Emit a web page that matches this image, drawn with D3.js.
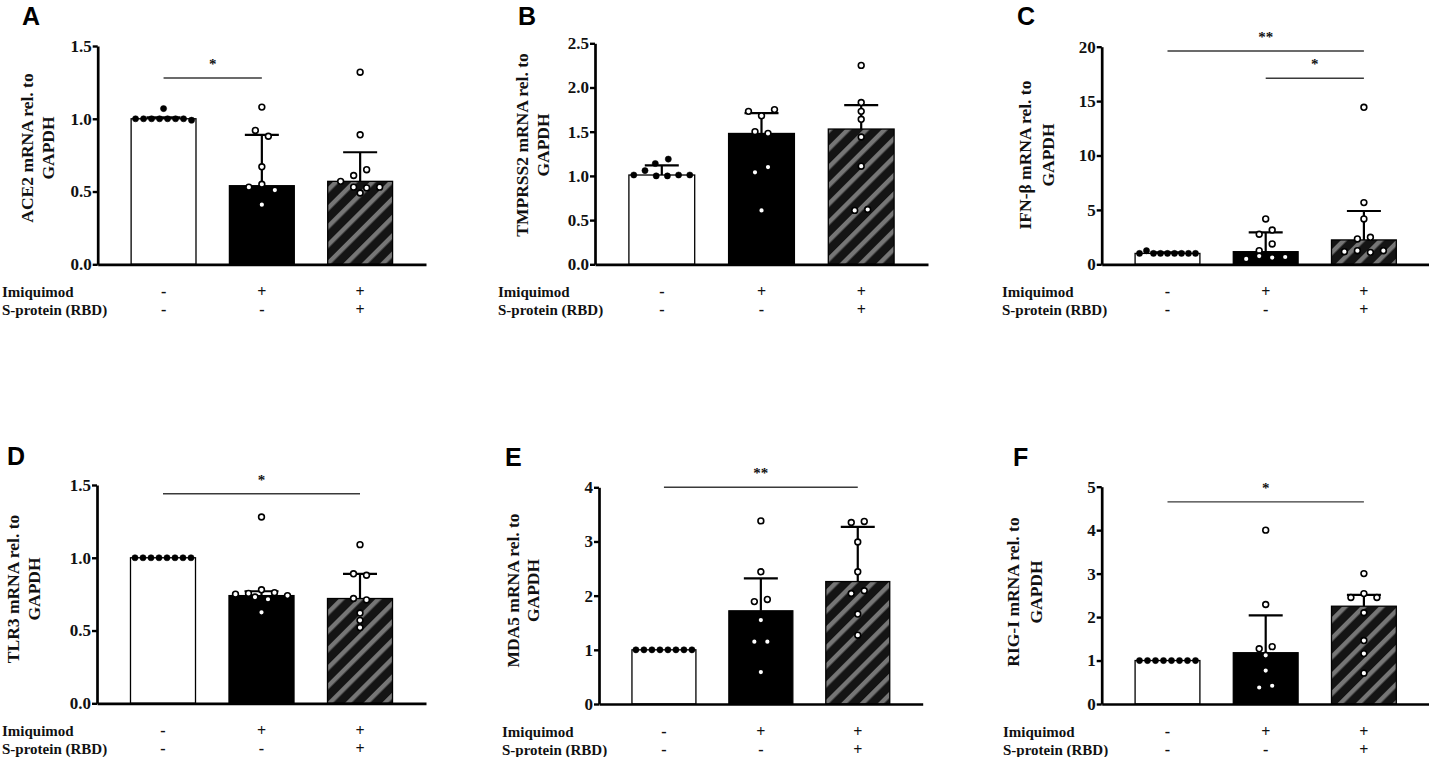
<!DOCTYPE html>
<html>
<head>
<meta charset="utf-8">
<script src="https://cdn.jsdelivr.net/npm/d3@7"></script>
<style>
  body { margin: 0; background: #fff; }
</style>
</head>
<body>
<div id="chart"></div>
<script>
// ---- data ----
const panelLetters = ['A', 'B', 'C', 'D', 'E', 'F'];
const yTitles = [
    ['ACE2 mRNA rel. to', 'GAPDH'],
    ['TMPRSS2 mRNA rel. to', 'GAPDH'],
    ['IFN-β mRNA rel. to', 'GAPDH'],
    ['TLR3 mRNA rel. to', 'GAPDH'],
    ['MDA5 mRNA rel. to', 'GAPDH'],
    ['RIG-I mRNA rel. to', 'GAPDH']
];
const yTickValues = [
    [0, 0.5, 1.0, 1.5],
    [0, 0.5, 1.0, 1.5, 2.0, 2.5],
    [0, 5, 10, 15, 20],
    [0, 0.5, 1.0, 1.5],
    [0, 1, 2, 3, 4],
    [0, 1, 2, 3, 4, 5]
];
const tickFormats = ['.1f', '.1f', 'd', '.1f', 'd', 'd'];
const groups = ['control', 'imiquimod', 'imiquimod + RBD'];
const rowLabels = ['Imiquimod', 'S-protein (RBD)'];
const imiquimodRow = ['-', '+', '+'];
const sProteinRow = ['-', '-', '+'];

// bar heights (mean) and top of error bar, per panel, per group
const barMeans = [
    [1.0, 0.54, 0.57],
    [1.01, 1.48, 1.53],
    [1.0, 1.16, 2.24],
    [1.0, 0.74, 0.72],
    [1.0, 1.72, 2.26],
    [1.0, 1.18, 2.25]
];
const barErrTop = [
    [1.01, 0.89, 0.77],
    [1.12, 1.71, 1.80],
    [1.1, 2.94, 4.9],
    [1.0, 0.77, 0.89],
    [1.0, 2.32, 3.27],
    [1.0, 2.04, 2.51]
];

// individual samples (listed roughly left to right inside each row)
const pointsA = [
    [1.00, 1.00, 1.00, 1.00, 1.07, 1.00, 1.00, 1.00, 0.99],
    [0.92, 1.08, 0.88, 0.67, 0.53, 0.55, 0.51, 0.41],
    [1.32, 0.89, 0.57, 0.61, 0.53, 0.65, 0.525, 0.53, 0.49]
];
const pointsB = [
    [1.01, 1.06, 1.00, 1.14, 1.19, 1.00, 1.01, 1.01],
    [1.73, 1.50, 1.68, 1.48, 1.75, 1.04, 1.10, 0.61],
    [2.25, 1.83, 1.73, 1.64, 1.44, 1.11, 0.61, 0.62]
];
const pointsC = [
    [1.0, 1.25, 1.0, 1.0, 1.0, 1.0, 1.0, 1.0, 1.0],
    [1.25, 2.76, 4.17, 1.87, 3.15, 0.49, 0.76, 0.62, 0.67],
    [1.16, 2.33, 1.25, 5.67, 4.17, 14.43, 1.1, 2.48, 1.25]
];
const pointsD = [
    [1.0, 1.0, 1.0, 1.0, 1.0, 1.0, 1.0, 1.0],
    [0.75, 0.755, 0.78, 0.73, 0.76, 0.715, 0.74, 0.625, 1.28],
    [1.09, 0.89, 0.88, 0.72, 0.71, 0.62, 0.57, 0.52]
];
const pointsE = [
    [1.0, 1.0, 1.0, 1.0, 1.0, 1.0, 1.0, 1.0],
    [3.38, 2.44, 1.89, 1.93, 1.55, 1.15, 1.15, 0.59],
    [3.35, 3.37, 2.99, 2.44, 2.04, 2.09, 1.66, 1.27]
];
const pointsF = [
    [1.0, 1.0, 1.0, 1.0, 1.0, 1.0, 1.0, 1.0],
    [4.0, 2.29, 1.27, 1.12, 1.32, 0.38, 0.77, 0.42],
    [3.0, 2.45, 2.54, 2.45, 2.1, 1.46, 1.16, 0.71]
];
const allPoints = [pointsA, pointsB, pointsC, pointsD, pointsE, pointsF];

// significance brackets: [from group, to group, height, label]
const sigBars = [
    [[0, 1, 1.28, '*']],
    [],
    [[0, 2, 19.6, '**'], [1, 2, 17.1, '*']],
    [[0, 2, 1.44, '*']],
    [[0, 2, 4.0, '**']],
    [[0, 2, 4.65, '*']]
];

// ---- layout (pixel positions of each panel) ----
const layout = [
    {axisX: 97.7, axisW: 328.3, yTop: 46, yBottom: 264.3, letter: [22, 25], titleOff: [-70.7, -49.7], titleY: 148, rowX: 2},
    {axisX: 595, axisW: 333, yTop: 43.3, yBottom: 264.3, letter: [518, 25], titleOff: [-73, -52], titleY: 145, rowX: 498},
    {axisX: 1101.7, axisW: 328, yTop: 46.7, yBottom: 264.3, letter: [1017, 25], titleOff: [-77, -54], titleY: 155, rowX: 1002},
    {axisX: 97, axisW: 329, yTop: 485, yBottom: 703.3, letter: [7, 465], titleOff: [-84, -63], titleY: 589, rowX: 2},
    {axisX: 599, axisW: 323.7, yTop: 487.3, yBottom: 704, letter: [505, 466], titleOff: [-86, -66], titleY: 590.5, rowX: 502},
    {axisX: 1101.7, axisW: 328, yTop: 486.7, yBottom: 704, letter: [1013, 466], titleOff: [-89, -66], titleY: 592, rowX: 1003}
];
const barFills = ['#ffffff', '#000000', 'url(#hatch)'];
const SERIF = '"Liberation Serif", "Times New Roman", Times, serif';

const svg = d3.select('#chart')
    .append('svg')
    .attr('width', 1429)
    .attr('height', 757);

// diagonal hatch for the third bar
const pat = svg.append('defs').append('pattern')
    .attr('id', 'hatch')
    .attr('patternUnits', 'userSpaceOnUse')
    .attr('width', 13)
    .attr('height', 13)
    .attr('patternTransform', 'rotate(45)');
pat.append('rect').attr('width', 13).attr('height', 13).attr('fill', '#141414');
pat.append('rect').attr('width', 4.5).attr('height', 13).attr('fill', '#767676');

// bold serif text helper
function serifText(sel, size) {
    return sel.style('font-family', SERIF)
        .style('font-weight', 'bold')
        .style('font-size', size + 'px')
        .attr('fill', '#111');
}

// spread points of one group into rows like GraphPad does
function spread(vals, y, cx) {
    const order = vals.map((v, i) => i).sort((a, b) => vals[b] - vals[a]);
    const rows = [];
    let cur = null;
    order.forEach(i => {
        const py = y(vals[i]);
        if (cur && py - cur.top < 7) cur.items.push(i);
        else { cur = {top: py, items: [i]}; rows.push(cur); }
    });
    const out = [];
    rows.forEach(r => {
        r.items.sort((a, b) => a - b);
        const n = r.items.length;
        const s = n > 1 ? Math.min(13, 56 / (n - 1)) : 0;
        r.items.forEach((i, k) => out.push({v: vals[i], x: cx + (k - (n - 1) / 2) * s, y: y(vals[i])}));
    });
    return out;
}

panelLetters.forEach((letter, p) => {
    const L = layout[p];
    const g = svg.append('g');

    const x = d3.scaleBand()
        .domain(groups)
        .range([L.axisX, L.axisX + L.axisW])
        .paddingInner(0.34)
        .paddingOuter(0.34);
    const y = d3.scaleLinear()
        .domain([0, d3.max(yTickValues[p])])
        .range([L.yBottom, L.yTop]);
    const cx = gname => x(gname) + x.bandwidth() / 2;

    // panel letter
    g.append('text')
        .attr('x', L.letter[0]).attr('y', L.letter[1])
        .style('font-family', '"Liberation Sans", Arial, sans-serif')
        .style('font-weight', 'bold')
        .style('font-size', '25px')
        .text(letter);

    // bars
    g.append('g').selectAll('rect')
        .data(groups)
        .enter()
        .append('rect')
        .attr('x', d => x(d))
        .attr('width', x.bandwidth())
        .attr('y', (d, i) => y(barMeans[p][i]))
        .attr('height', (d, i) => y(0) - y(barMeans[p][i]))
        .attr('fill', (d, i) => barFills[i])
        .attr('stroke', '#000')
        .attr('stroke-width', 1.3);

    // error bars (upper only)
    const eb = g.append('g').attr('stroke', '#000').attr('stroke-width', 2.2);
    groups.forEach((gname, i) => {
        const top = barErrTop[p][i];
        if (top <= barMeans[p][i]) return;
        eb.append('line')
            .attr('x1', cx(gname)).attr('x2', cx(gname))
            .attr('y1', y(barMeans[p][i])).attr('y2', y(top));
        eb.append('line')
            .attr('x1', cx(gname) - 17).attr('x2', cx(gname) + 17)
            .attr('y1', y(top)).attr('y2', y(top));
    });

    // axes
    const yAxis = g.append('g')
        .attr('transform', `translate(${L.axisX},0)`)
        .call(d3.axisLeft(y)
            .tickValues(yTickValues[p])
            .tickFormat(d3.format(tickFormats[p]))
            .tickSize(5)
            .tickSizeOuter(0));
    yAxis.select('.domain').attr('stroke', '#000').attr('stroke-width', 2.7);
    yAxis.selectAll('.tick line').attr('stroke', '#000').attr('stroke-width', 2.4);
    serifText(yAxis.selectAll('.tick text'), 17).attr('x', -6);

    const xAxis = g.append('g')
        .attr('transform', `translate(0,${y(0)})`)
        .call(d3.axisBottom(x).tickSize(0).tickSizeOuter(0).tickFormat(''));
    xAxis.select('.domain').attr('stroke', '#000').attr('stroke-width', 2.7);

    // points
    allPoints[p].forEach((vals, i) => {
        const pts = spread(vals, y, cx(groups[i]));
        g.append('g').selectAll('circle')
            .data(pts)
            .enter()
            .append('circle')
            .attr('cx', d => d.x)
            .attr('cy', d => d.y)
            .attr('r', i === 0 ? 3.1 : 2.9)
            .attr('fill', i === 0 ? '#000' : '#fff')
            .attr('stroke', '#000')
            .attr('stroke-width', i === 0 ? 0.5 : 1.6);
    });

    // significance brackets
    sigBars[p].forEach(s => {
        const x1 = cx(groups[s[0]]), x2 = cx(groups[s[1]]);
        g.append('line')
            .attr('x1', x1).attr('x2', x2)
            .attr('y1', y(s[2])).attr('y2', y(s[2]))
            .attr('stroke', '#3a3a3a')
            .attr('stroke-width', 1.4);
        serifText(g.append('text'), 15)
            .attr('x', (x1 + x2) / 2)
            .attr('y', y(s[2]) - 9)
            .attr('text-anchor', 'middle')
            .text(s[3]);
    });

    // y axis title (two lines)
    yTitles[p].forEach((t, k) => {
        serifText(g.append('text'), 17.5)
            .attr('transform', `translate(${L.axisX + L.titleOff[k]},${L.titleY}) rotate(-90)`)
            .attr('dy', '0.35em')
            .attr('text-anchor', 'middle')
            .text(t);
    });

    // treatment table under the axis
    [imiquimodRow, sProteinRow].forEach((row, k) => {
        const by = y(0) + 33 + k * 18;
        serifText(g.append('text'), 15)
            .attr('x', L.rowX).attr('y', by)
            .text(rowLabels[k]);
        serifText(g.append('g').selectAll('text')
            .data(row)
            .enter()
            .append('text'), 16)
            .attr('x', (d, i) => cx(groups[i]))
            .attr('y', by)
            .attr('text-anchor', 'middle')
            .text(d => d);
    });
});
</script>
</body>
</html>
